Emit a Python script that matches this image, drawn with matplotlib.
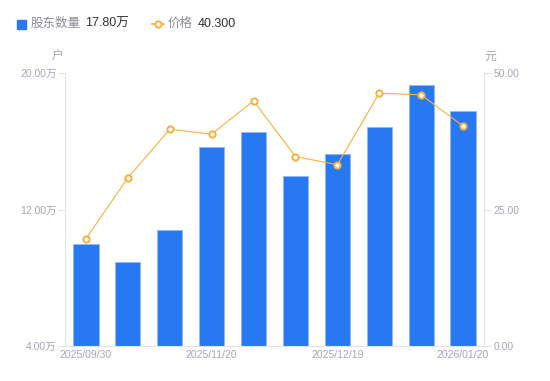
import numpy as np
import matplotlib
matplotlib.use('Agg')
import matplotlib.pyplot as plt

plt.rcParams['font.family'] = ['Liberation Sans', 'Noto Sans CJK SC', 'DejaVu Sans']

# Colours
BLUE = '#2878f2'
BLUE_EDGE = '#8fb8f7'
ORANGE = '#f7b03c'
TICK = '#a3a6b8'
AXIS = '#e3e3e6'
DARK = '#333333'
LEG = '#8a8c99'

# Data
dates = ['2025/09/30', '2025/10/20', '2025/10/31', '2025/11/20', '2025/11/28',
         '2025/12/10', '2025/12/19', '2025/12/31', '2026/01/09', '2026/01/20']
holders_wan = [10.0, 8.92, 10.8, 15.64, 16.52, 13.98, 15.25, 16.85, 19.28, 17.80]
price = [19.65, 30.8, 39.7, 38.8, 44.9, 34.7, 33.2, 46.3, 46.0, 40.30]
left_ticks = [4.0, 12.0, 20.0]
right_ticks = [0.0, 25.0, 50.0]
shown_idx = [0, 3, 6, 9]

fig = plt.figure(figsize=(5.5, 3.81), dpi=100, facecolor='white')
ax = fig.add_axes([65 / 550, 35 / 381, 419 / 550, 273 / 381])
ax2 = ax.twinx()

x = np.arange(len(dates))
ax.bar(x, holders_wan, width=0.6, color=BLUE, edgecolor=BLUE_EDGE, linewidth=0.6,
       bottom=0, zorder=2)
ax.set_ylim(4, 20)
ax.set_xlim(-0.5, len(dates) - 0.5)

ax2.plot(x, price, color=ORANGE, linewidth=0.8, marker='o', markersize=4.5,
         markerfacecolor='white', markeredgecolor=ORANGE, markeredgewidth=1.4, zorder=3)
ax2.set_ylim(0, 50)

for a in (ax, ax2):
    for sp in a.spines.values():
        sp.set_visible(False)
ax.spines['left'].set_visible(True)
ax.spines['left'].set_color(AXIS)
ax.spines['bottom'].set_visible(True)
ax.spines['bottom'].set_color(AXIS)
ax2.spines['right'].set_visible(True)
ax2.spines['right'].set_color(AXIS)

ax.set_yticks(left_ticks)
ax.set_yticklabels([f'{v:.2f}万' for v in left_ticks])
ax2.set_yticks(right_ticks)
ax2.set_yticklabels([f'{v:.2f}' for v in right_ticks])
ax.set_xticks(shown_idx)
ax.set_xticklabels([dates[i] for i in shown_idx])

ax.tick_params(axis='y', colors=AXIS, labelcolor=TICK, labelsize=7.5, length=5, width=0.8, pad=1)
ax2.tick_params(axis='y', colors=AXIS, labelcolor=TICK, labelsize=7.5, length=5, width=0.8, pad=2)
ax.tick_params(axis='x', length=0, labelcolor=TICK, labelsize=7.5, pad=3)

fig.text(58 / 550, 1 - 57 / 381, '户', color=TICK, fontsize=8.5, ha='center', va='center')
fig.text(490 / 550, 1 - 57 / 381, '元', color=TICK, fontsize=8.5, ha='center', va='center')

# Legend
ly = 1 - 24 / 381
fig.patches.append(plt.Rectangle((17 / 550, 1 - 29 / 381), 9 / 550, 9 / 381,
                                 transform=fig.transFigure, color=BLUE, figure=fig))
fig.text(31 / 550, ly, '股东数量', color=LEG, fontsize=9, va='center')
fig.text(85 / 550, ly, '17.80万', color=DARK, fontsize=9, va='center')
fig.lines.append(plt.Line2D([152 / 550, 164 / 550], [ly, ly],
                            transform=fig.transFigure, color=ORANGE, linewidth=1.2, figure=fig))
fig.lines.append(plt.Line2D([158 / 550], [ly], transform=fig.transFigure,
                            color=ORANGE, marker='o', markersize=4.5, markerfacecolor='white',
                            markeredgewidth=1.4, linestyle='none', figure=fig))
fig.text(168 / 550, ly, '价格', color=LEG, fontsize=9, va='center')
fig.text(198 / 550, ly, '40.300', color=DARK, fontsize=9, va='center')

fig.savefig('out.png', dpi=100, facecolor='white')
